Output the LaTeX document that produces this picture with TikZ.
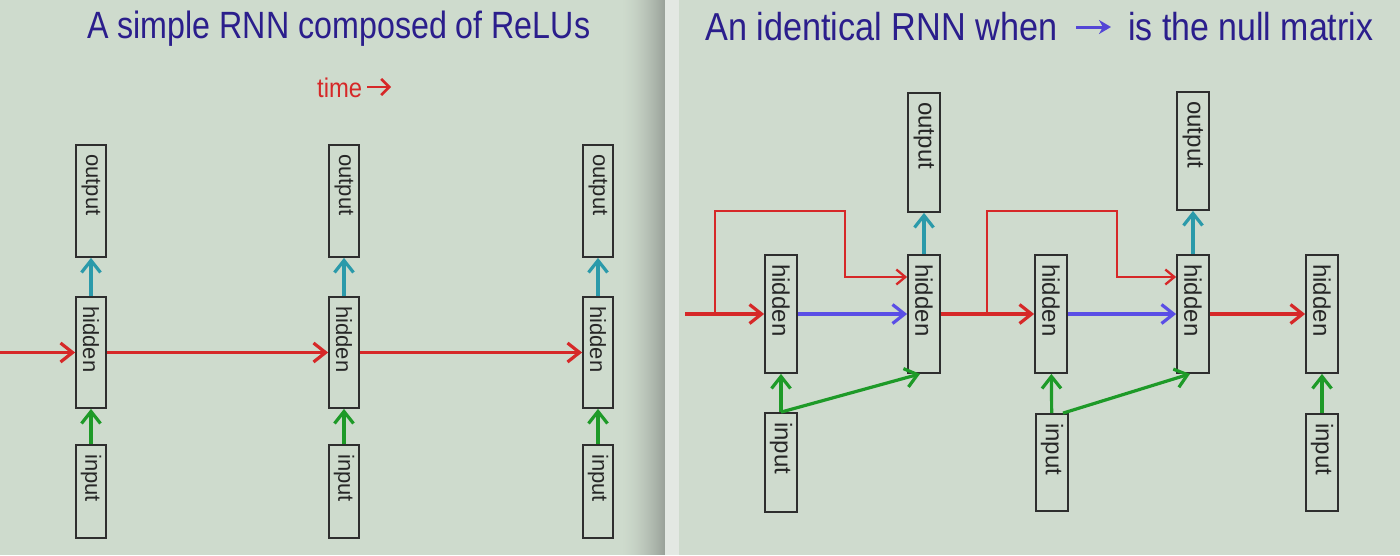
\documentclass[tikz,border=0pt]{standalone}
\usepackage{fontspec}
\setmainfont{Liberation Sans}
\usetikzlibrary{arrows.meta}
\definecolor{bgL}{HTML}{CEDBCD}
\definecolor{bgR}{HTML}{CFDBCE}
\definecolor{shadeC}{HTML}{9AA29A}
\definecolor{stripC}{HTML}{E3E8E3}
\definecolor{boxC}{HTML}{2E2E2E}
\definecolor{redC}{HTML}{D62828}
\definecolor{blueC}{HTML}{5A4EE6}
\definecolor{greenC}{HTML}{1E9A28}
\definecolor{cyanC}{HTML}{2B9AAA}
\definecolor{titleC}{HTML}{2B1E8C}
\definecolor{arrowTC}{HTML}{5446D6}
\begin{document}
\begin{tikzpicture}[x=1pt,y=-1pt,
  box/.style={draw=boxC,line width=1.8pt,minimum width=30pt,inner sep=0pt},
  boxR/.style={box,minimum width=32pt},
  vtxtL/.style={rotate=-90,anchor=west,inner sep=0pt,font=\fontsize{22}{22}\selectfont,text=black!85},
  vtxtR/.style={rotate=-90,anchor=west,inner sep=0pt,font=\fontsize{24}{24}\selectfont,text=black!85},
  conn/.style={line width=3.2pt,-{Straight Barb[length=12pt,width=19pt]}},
  redA/.style={conn,draw=redC},
  blueA/.style={conn,draw=blueC},
  greenA/.style={conn,draw=greenC},
  cyanA/.style={conn,draw=cyanC},
  redB/.style={draw=redC,line width=2.3pt,-{Straight Barb[length=9pt,width=15pt]}},
  title/.style={inner sep=0pt,anchor=base west,text=titleC}
]
\useasboundingbox (0,0) rectangle (1400,555);
% backgrounds
\fill[bgL] (0,0) rectangle (665,555);
\foreach \i in {0,...,44}{
  \pgfmathsetmacro{\p}{(\i/44)^1.6*100}
  \fill[shadeC!\p!bgL] (620+\i,0) rectangle (621.2+\i,555);
}
\fill[stripC] (665,0) rectangle (679,555);
\fill[bgR] (679,0) rectangle (1400,555);

% ---------- left panel ----------
\node[title] (tl) at (87,38) {\resizebox{503pt}{\height}{\fontsize{38}{40}\selectfont A simple RNN composed of ReLUs}};
\node[inner sep=0pt,anchor=base west,text=redC] (time) at (317,97) {\resizebox{45pt}{\height}{\fontsize{27}{28}\selectfont time}};
\coordinate (ta) at (367,87);
\coordinate (tb) at (391,87);
\draw[draw=redC,line width=2.6pt,-{Straight Barb[length=8pt,width=16pt]}] (ta) -- (tb);

\foreach \n/\x in {1/91,2/344,3/598}{
  \node[box,minimum height=112pt] (lo\n) at (\x,201) {};
  \node[box,minimum height=111pt] (lh\n) at (\x,352.5) {};
  \node[box,minimum height=93pt] (li\n) at (\x,491.5) {};
  \node[vtxtL] (lo\n t) at ([yshift=-10pt]lo\n.north) {output};
  \node[vtxtL] (lh\n t) at ([yshift=-10pt]lh\n.north) {hidden};
  \node[vtxtL] (li\n t) at ([yshift=-10pt]li\n.north) {input};
  \draw[cyanA] (lh\n) -- (lo\n);
  \draw[greenA] (li\n) -- (lh\n);
}
\coordinate (ls) at (0,352.5);
\draw[redA] (ls) -- (lh1);
\draw[redA] (lh1) -- (lh2);
\draw[redA] (lh2) -- (lh3);

% ---------- right panel ----------
\node[title] (tr1) at (705,40) {\resizebox{352pt}{\height}{\fontsize{39}{41}\selectfont An identical RNN when}};
\node[title] (tr2) at (1128,40) {\resizebox{245pt}{\height}{\fontsize{39}{41}\selectfont is the null matrix}};
\coordinate (tra) at (1076,27);
\coordinate (trb) at (1111,27);
\draw[draw=arrowTC,line width=3pt,-{Stealth[length=12pt,width=14pt]}] (tra) -- (trb);

\node[boxR,minimum height=119pt] (ro1) at (924,152.5) {};
\node[boxR,minimum height=118pt] (rA1) at (781,314) {};
\node[boxR,minimum height=118pt] (rB1) at (924,314) {};
\node[boxR,minimum height=99pt] (ri1) at (781,462.5) {};
\node[boxR,minimum height=118pt] (ro2) at (1193,151) {};
\node[boxR,minimum height=118pt] (rA2) at (1051,314) {};
\node[boxR,minimum height=118pt] (rB2) at (1193,314) {};
\node[boxR,minimum height=97pt] (ri2) at (1052,462.5) {};
\node[boxR,minimum height=118pt] (rC) at (1322,314) {};
\node[boxR,minimum height=97pt] (riC) at (1322,462.5) {};

\foreach \nm/\tx in {ro1/output,ro2/output,rA1/hidden,rB1/hidden,rA2/hidden,rB2/hidden,rC/hidden,ri1/input,ri2/input,riC/input}{
  \node[vtxtR] (\nm t) at ([yshift=-10pt]\nm.north) {\tx};
}

\coordinate (rs) at (685,314);
\draw[redA] (rs) -- (rA1);
\draw[blueA] (rA1) -- (rB1);
\draw[redA] (rB1) -- (rA2);
\draw[blueA] (rA2) -- (rB2);
\draw[redA] (rB2) -- (rC);
\draw[cyanA] (rB1) -- (ro1);
\draw[cyanA] (rB2) -- (ro2);
\draw[greenA] (ri1) -- (rA1);
\draw[greenA] (ri2) -- (rA2);
\draw[greenA] (riC) -- (rC);
\draw[greenA] (ri1.north) -- ([xshift=-4pt]rB1.south);
\draw[greenA] ([xshift=11pt]ri2.north) -- ([xshift=-3pt]rB2.south);

% skip connections
\coordinate (k1) at (715,314);
\coordinate (k1a) at (715,211);
\coordinate (k1b) at (845,211);
\coordinate (k1c) at (845,277);
\draw[redB] (k1) -- (k1a) -- (k1b) -- (k1c) -- (k1c -| rB1.west);
\coordinate (k2) at (987,314);
\coordinate (k2a) at (987,211);
\coordinate (k2b) at (1117,211);
\coordinate (k2c) at (1117,277);
\draw[redB] (k2) -- (k2a) -- (k2b) -- (k2c) -- (k2c -| rB2.west);
\end{tikzpicture}
\end{document}
